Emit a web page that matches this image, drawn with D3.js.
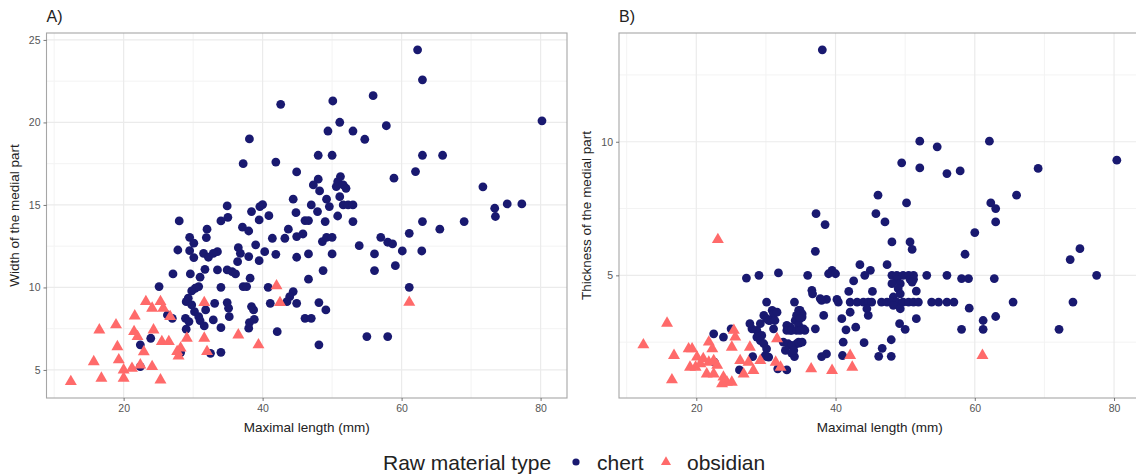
<!DOCTYPE html>
<html>
<head>
<meta charset="utf-8">
<script src="https://cdn.jsdelivr.net/npm/d3@7"></script>
<style>
html,body{margin:0;padding:0;background:#fff;}
svg{display:block;font-family:"Liberation Sans",Arial,sans-serif;}
</style>
</head>
<body>
<svg id="chart" width="1136" height="474"></svg>
<script>
// ---------- data ----------
const xTicks = [20, 40, 60, 80];
const yTicksA = [5, 10, 15, 20, 25];
const yTicksB = [5, 10];
const materials = ["chert", "obsidian"];

// Panel A: [maximal length, width of medial part]
const chertA = [
[44.9,17.0],[44.4,15.35],[34.9,14.94],[40.0,15.02],[39.6,14.9],[38.4,14.6],[44.8,14.53],[35.0,14.25],[34.0,14.03],[40.9,14.35],
[39.5,14.09],[28.0,14.03],[37.1,13.65],[38.0,13.42],[32.0,13.53],[31.9,13.02],[43.7,13.53],[43.2,12.98],[44.9,13.08],[41.4,12.98],
[29.5,13.04],[30.1,12.68],[39.0,12.58],[40.3,12.17],[41.9,12.01],[36.5,12.41],[36.8,12.07],[38.0,11.87],[27.8,12.27],[29.5,12.23],
[30.1,11.81],[31.5,12.07],[32.2,11.83],[33.5,12.17],[32.9,12.07],[44.9,11.83],[39.5,11.62],[36.4,11.56],[31.7,11.1],[31.0,10.62],
[29.6,10.82],[33.5,11.06],[34.9,11.06],[35.6,10.96],[36.1,10.82],[27.1,10.82],[38.2,10.56],[37.2,10.05],[37.7,10.05],[30.8,10.05],
[30.3,9.95],[29.8,9.79],[34.0,10.01],[25.1,10.05],[40.8,10.01],[44.4,9.75],[43.9,9.44],[44.9,9.04],[43.5,9.14],[41.1,9.04],
[29.3,9.35],[29.0,9.14],[29.8,8.94],[33.1,9.04],[34.9,9.08],[35.1,8.74],[38.4,8.84],[38.7,8.64],[31.8,8.64],[30.2,8.53],
[30.8,8.23],[28.9,8.13],[29.4,7.93],[31.0,7.99],[31.6,7.67],[35.2,8.23],[32.9,8.03],[38.8,8.07],[38.1,7.87],[38.0,7.53],
[34.0,7.56],[29.0,7.47],[42.1,7.32],[26.3,8.33],[27.0,8.13],[23.9,6.92],[22.4,6.52],[32.5,6.01],[34.0,6.07],[22.4,5.2],
[28.2,6.05],[42.6,21.1],[38.1,19.0],[37.2,17.5],[41.9,17.6],
[63.0,22.58],[55.9,21.62],[50.1,21.3],[51.1,20.01],[49.4,19.48],[53.0,19.48],[54.7,18.98],[57.8,19.8],[48.0,18.01],[50.0,18.01],
[63.0,18.01],[65.9,18.01],[62.0,17.02],[58.9,16.62],[48.0,16.56],[47.3,16.21],[48.2,15.85],[51.2,16.72],[50.8,16.41],[50.6,16.11],
[51.6,16.21],[52.0,16.01],[51.1,15.5],[51.6,15.0],[52.3,15.0],[53.0,15.0],[49.2,15.35],[49.6,14.9],[47.0,15.0],[47.9,14.6],
[46.1,14.05],[46.6,14.05],[49.0,13.99],[50.8,14.33],[53.0,13.99],[63.0,13.99],[65.5,13.53],[69.0,13.99],[61.1,13.28],[45.8,13.24],
[48.6,12.78],[49.2,13.04],[50.0,13.04],[53.9,12.53],[57.0,13.04],[58.0,12.74],[58.7,12.64],[60.1,12.21],[62.9,12.21],[56.1,12.03],
[46.6,12.03],[50.0,12.03],[48.7,11.02],[56.1,11.02],[59.1,11.32],[46.6,10.5],[61.1,10.01],[48.1,9.08],[49.1,8.64],[46.1,8.13],
[47.0,8.13],[48.1,6.52],[55.0,7.02],[58.0,7.02],[62.3,24.4],[80.2,20.1],[71.7,16.1],[73.4,14.8],[73.5,14.3],[75.2,15.06],[77.3,15.06]
];
const obsidianA = [
[12.4,4.29],[15.7,5.5],[16.5,7.42],[16.8,4.5],[18.9,7.73],[19.1,6.41],[19.3,5.61],[20.0,5.0],[20.0,4.5],[21.2,5.1],
[21.6,8.27],[21.5,7.32],[22.0,7.02],[22.4,5.3],[22.9,6.1],[24.1,5.2],[24.3,7.42],[25.3,4.39],[23.2,9.14],[24.1,8.74],
[25.3,9.14],[25.7,8.74],[26.7,8.23],[25.5,6.72],[26.5,6.72],[27.7,6.11],[28.2,6.32],[27.9,5.85],[29.1,6.92],[31.6,9.08],
[31.6,6.92],[32.0,6.11],[36.5,7.12],[39.4,6.52],[42.0,10.1],[42.5,9.08],[61.1,9.1]
];

// Panel B: [maximal length, thickness of medial part]
const chertB = [
[38.1,13.44],[37.2,7.31],[38.5,6.9],[52.1,10.02],[54.6,9.81],[62.1,10.02],[49.5,9.21],[52.1,9.02],[56.0,8.81],[57.9,8.91],
[69.1,9.0],[80.4,9.31],[46.1,8.0],[50.2,7.71],[45.8,7.31],[47.1,7.0],[62.3,7.71],[63.0,7.5],[66.0,8.0],[63.0,7.0],
[60.0,6.6],[48.1,6.25],[50.7,6.25],[51.0,5.97],[37.1,5.9],[58.6,5.79],[75.1,6.0],[73.7,5.59],[77.5,5.0],[74.1,4.0],[72.1,2.98],
[43.5,5.4],[47.4,5.4],[45.0,5.19],[44.2,5.0],[39.5,5.19],[39.0,5.06],[40.0,5.06],[36.0,5.0],[31.8,5.09],[29.0,5.0],[27.2,4.9],
[48.1,5.0],[48.8,5.0],[49.7,5.0],[50.5,5.0],[51.2,5.0],[53.1,5.0],[56.0,5.0],
[48.8,4.85],[50.7,4.85],[51.2,4.85],[58.1,4.88],[59.1,4.88],[62.8,4.88],
[42.6,4.79],[36.6,4.44],[36.7,4.31],[41.9,4.4],[45.3,4.4],[51.6,4.41],
[48.1,4.69],[49.3,4.69],[49.0,4.5],[49.3,4.31],[48.3,4.19],[51.0,4.75],
[42.1,4.0],[43.1,4.0],[44.0,4.0],[44.7,4.0],[45.2,4.0],[46.6,4.0],[47.4,4.0],[48.1,4.0],[48.8,4.0],[49.7,4.0],
[50.5,4.0],[51.2,4.0],[51.9,4.0],[53.8,4.0],[54.8,4.0],[56.0,4.0],[57.0,4.0],[65.5,4.0],
[38.7,4.1],[38.0,4.06],[40.2,4.1],[40.4,4.0],
[48.3,3.88],[49.3,3.75],[44.5,3.75],[44.7,3.5],[42.1,3.62],[40.9,3.38],[38.3,3.5],[59.2,3.77],[51.6,3.38],[61.2,3.31],
[61.2,2.98],[63.0,3.46],[49.2,3.19],[50.0,2.98],[58.1,2.98],[42.9,3.06],[41.5,2.96],[37.1,3.0],
[48.0,2.59],[46.7,2.27],[46.2,1.97],[48.0,1.97],[44.1,2.48],[41.1,2.5],[38.7,2.06],[38.0,1.96],[41.0,2.0],
[37.8,4.13],[30.1,4.0],[34.1,4.0],[34.9,3.69],[34.7,3.69],[35.2,3.56],[35.2,3.44],[34.2,3.31],[33.0,3.13],[33.5,2.94],
[30.9,3.69],[31.1,3.56],[29.7,3.5],[30.1,3.38],[29.2,3.19],[30.6,3.31],[31.1,3.0],[28.7,2.94],[29.4,2.75],[28.0,3.0],
[28.7,2.69],[27.7,3.19],[34.4,3.5],[34.9,3.38],[34.7,3.13],[35.4,3.0],[33.5,3.06],[33.0,2.94],[33.7,2.94],[34.4,2.94],
[34.9,2.94],[35.6,2.94],[22.5,2.81],[23.9,2.69],[25.0,3.0],[29.2,2.56],[29.7,2.44],[30.1,2.25],[29.9,2.0],
[32.5,2.5],[33.2,2.44],[33.7,2.38],[34.4,2.44],[34.8,2.46],[28.1,1.96],[30.1,1.96],[33.7,2.09],[34.1,1.96],
[26.2,1.46],[22.6,1.75],[31.7,1.5],[33.0,1.46],[31.6,3.62],[30.4,3.31],[31.3,3.31],[30.4,1.94],[32.8,2.19],[34.0,2.19],[34.7,2.5],[35.2,2.5]
];
const obsidianB = [
[12.4,2.4],[15.8,3.21],[16.8,2.0],[16.5,1.09],[18.9,2.25],[19.4,2.25],[19.1,1.56],[19.9,1.56],[20.1,1.94],[20.6,1.69],
[21.0,1.88],[21.8,2.5],[22.3,2.25],[21.8,1.75],[22.5,1.81],[23.0,1.63],[21.5,1.31],[22.5,1.31],[23.9,1.19],[24.4,1.0],
[25.1,1.0],[23.7,0.94],[25.4,2.94],[25.6,2.69],[25.1,2.31],[26.3,1.81],[27.7,2.31],[27.5,1.75],[28.2,1.44],[26.8,1.31],
[29.2,1.81],[31.6,2.63],[31.4,1.75],[32.1,1.56],[36.5,1.5],[39.5,1.44],[42.1,2.0],[42.4,1.56],[61.1,2.0],[23.1,6.34]
];

// ---------- drawing ----------
const COL = {chert: "#191970", obsidian: "#FF6A6A"};
const svg = d3.select("#chart");

function panel(opts) {
  const {left, right, top, bottom, xDomain, yDomain, yTicks, yMinor, xMinor, title, yTitle, chert, obsidian} = opts;
  const x = d3.scaleLinear().domain(xDomain).range([left, right]);
  const y = d3.scaleLinear().domain(yDomain).range([bottom, top]);
  const g = svg.append("g");
  const clipId = "clip" + title.replace(/\W/g, "");
  svg.append("clipPath").attr("id", clipId).append("rect")
    .attr("x", left).attr("y", top).attr("width", right - left).attr("height", bottom - top);

  // background grid
  const grid = g.append("g");
  grid.selectAll(".xmin").data(xMinor).enter().append("line")
    .attr("x1", d => x(d)).attr("x2", d => x(d)).attr("y1", top).attr("y2", bottom)
    .attr("stroke", "#f3f3f3").attr("stroke-width", 1);
  grid.selectAll(".ymin").data(yMinor).enter().append("line")
    .attr("y1", d => y(d)).attr("y2", d => y(d)).attr("x1", left).attr("x2", right)
    .attr("stroke", "#f3f3f3").attr("stroke-width", 1);
  grid.selectAll(".xmaj").data(xTicks).enter().append("line")
    .attr("x1", d => x(d)).attr("x2", d => x(d)).attr("y1", top).attr("y2", bottom)
    .attr("stroke", "#ebebeb").attr("stroke-width", 1.2);
  grid.selectAll(".ymaj").data(yTicks).enter().append("line")
    .attr("y1", d => y(d)).attr("y2", d => y(d)).attr("x1", left).attr("x2", right)
    .attr("stroke", "#ebebeb").attr("stroke-width", 1.2);

  // points
  const pts = g.append("g").attr("clip-path", `url(#${clipId})`);
  pts.selectAll("circle").data(chert).enter().append("circle")
    .attr("cx", d => x(d[0])).attr("cy", d => y(d[1])).attr("r", 4.4)
    .attr("fill", COL.chert);
  const tri = d3.symbol().type(d3.symbolTriangle).size(62);
  pts.selectAll("path.tri").data(obsidian).enter().append("path")
    .attr("class", "tri")
    .attr("transform", d => `translate(${x(d[0])},${y(d[1])})`)
    .attr("d", tri).attr("fill", COL.obsidian);

  // border
  g.append("rect").attr("x", left).attr("y", top).attr("width", right - left).attr("height", bottom - top)
    .attr("fill", "none").attr("stroke", "#a6a6a6").attr("stroke-width", 1.1);

  // axes
  const xAxis = d3.axisBottom(x).tickValues(xTicks).tickSize(3).tickPadding(4);
  const gx = g.append("g").attr("transform", `translate(0,${bottom})`).call(xAxis);
  const yAxis = d3.axisLeft(y).tickValues(yTicks).tickSize(3).tickPadding(3);
  const gy = g.append("g").attr("transform", `translate(${left},0)`).call(yAxis);
  [gx, gy].forEach(a => {
    a.select(".domain").remove();
    a.selectAll(".tick line").attr("stroke", "#555").attr("stroke-width", 0.8);
    a.selectAll(".tick text").attr("fill", "#555").style("font-size", "10.5px")
      .style("font-family", '"Liberation Sans", Arial, sans-serif');
  });

  // titles
  g.append("text").attr("x", left).attr("y", 22).text(title)
    .attr("fill", "#222").style("font-size", "16px");
  g.append("text").attr("x", (left + right) / 2).attr("y", 432)
    .attr("text-anchor", "middle").text("Maximal length (mm)")
    .attr("fill", "#222").style("font-size", "13.5px");
  g.append("text").attr("transform", `translate(${left - 28},${(top + bottom) / 2}) rotate(-90)`)
    .attr("text-anchor", "middle").text(yTitle)
    .attr("fill", "#222").style("font-size", "13.5px");
  return {x, y};
}

panel({
  left: 46.5, right: 567, top: 33, bottom: 398,
  xDomain: [8.9, 83.8], yDomain: [3.3, 25.42],
  yTicks: yTicksA, yMinor: [7.5, 12.5, 17.5, 22.5], xMinor: [10, 30, 50, 70],
  title: "A)", yTitle: "Width of the medial part",
  chert: chertA, obsidian: obsidianA
});
panel({
  left: 619, right: 1140.5, top: 33, bottom: 398,
  xDomain: [8.9, 83.8], yDomain: [0.41, 14.07],
  yTicks: yTicksB, yMinor: [2.5, 7.5, 12.5], xMinor: [10, 30, 50, 70],
  title: "B)", yTitle: "Thickness of the medial part",
  chert: chertB, obsidian: obsidianB
});

// legend
const lg = svg.append("g").attr("transform", "translate(0,462)");
lg.append("text").attr("x", 383).attr("y", 7.5).text("Raw material type")
  .attr("fill", "#222").style("font-size", "21px");
lg.append("circle").attr("cx", 576).attr("cy", 0).attr("r", 3.6).attr("fill", COL.chert);
lg.append("text").attr("x", 597).attr("y", 7.5).text(materials[0])
  .attr("fill", "#222").style("font-size", "21px");
lg.append("path").attr("transform", "translate(666,0)")
  .attr("d", d3.symbol().type(d3.symbolTriangle).size(44)).attr("fill", COL.obsidian);
lg.append("text").attr("x", 687).attr("y", 7.5).text(materials[1])
  .attr("fill", "#222").style("font-size", "21px");
</script>
</body>
</html>
